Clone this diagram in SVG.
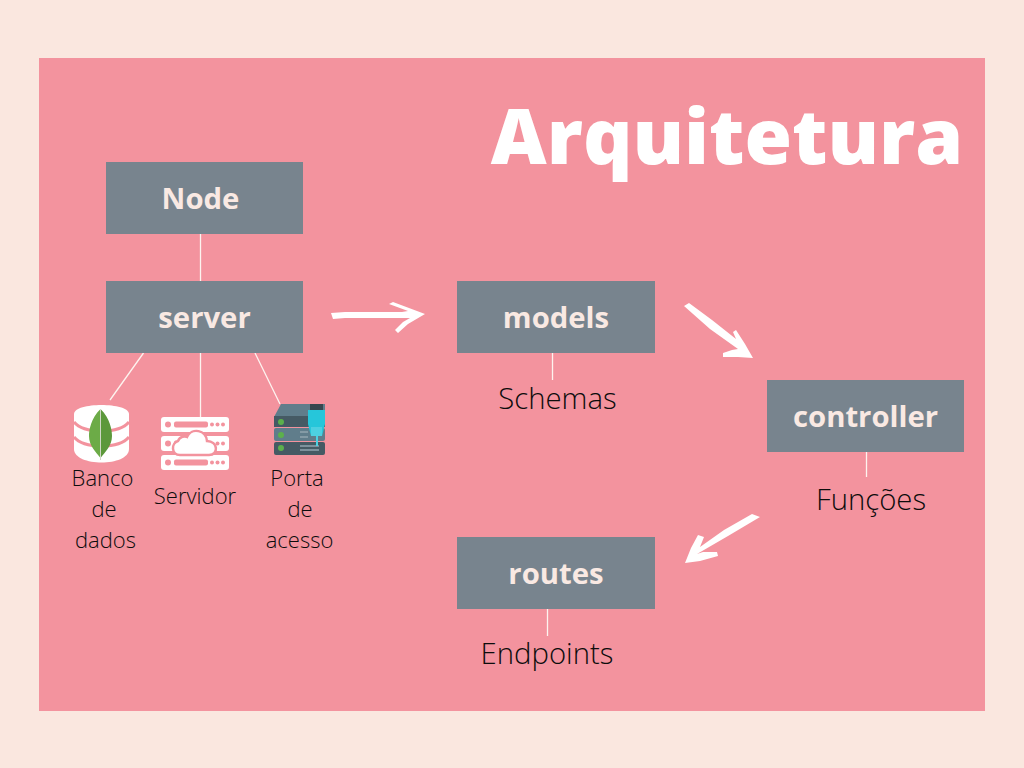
<svg xmlns="http://www.w3.org/2000/svg" width="1024" height="768" viewBox="0 0 1024 768">
<style>
.box{fill:#78848e}
.bl{font-family:"Open Sans","Liberation Sans",sans-serif;font-weight:700;font-size:29.300px;fill:#f9e9e3;text-anchor:middle}
.lab{font-family:"Open Sans","Liberation Sans",sans-serif;font-weight:300;font-size:29.300px;fill:#0c0c0c;text-anchor:middle}
.sm{font-family:"Open Sans","Liberation Sans",sans-serif;font-weight:300;font-size:22px;fill:#0c0c0c;text-anchor:middle}
.ln{stroke:#fdf3ef;stroke-width:1.300;fill:none}
.arrow{fill:#fff}
.w{fill:#fff}
.p{fill:#f3939e}
</style>
<rect width="1024" height="768" fill="#fae7df"/>
<rect x="39" y="58" width="946" height="653" fill="#f3939e"/>
<text id="title" x="727" y="164" font-family="'Open Sans','Liberation Sans',sans-serif" font-weight="800" font-size="77" fill="#fff" text-anchor="middle">Arquitetura</text>
<g id="connectors">
<path class="ln" d="M200.500 234V281M200.500 353V417M143.500 353L110 400M255 353L280 404M552.500 353V380M866.500 452V477M547.500 609V636"/>
<path class="arrow" d="M331 313L345 312L402 312L408 311L389 304L393 302L425 314L408 324L398 333L395 330L403 322L410 318L345 318L333 319Z"/>
<path class="arrow" d="M684 306L689 303L712 320L736 339L733 332L736 330L745 344L753 358L738 357L723 357L723 353L732 350L738 349L710 329Z"/>
<path class="arrow" d="M760 517L752 514L724 530L700 547L704 537L698 535L691 548L685 563L700 561L718 556L717 552L703 552L697 554L728 536Z"/>
</g>
<g id="node"><rect class="box" x="106" y="162" width="197" height="72"/><text class="bl" x="200.500" y="209">Node</text></g>
<g id="server"><rect class="box" x="106" y="281" width="197" height="72"/><text class="bl" x="204.500" y="328">server</text></g>
<g id="models"><rect class="box" x="457" y="281" width="198" height="72"/><text class="bl" x="556" y="328">models</text></g>
<g id="controller"><rect class="box" x="767" y="380" width="197" height="72"/><text class="bl" x="865.500" y="427">controller</text></g>
<g id="routes"><rect class="box" x="457" y="537" width="198" height="72"/><text class="bl" x="556" y="583.500">routes</text></g>
<g id="schemas"><text class="lab" x="557.500" y="409">Schemas</text></g>
<g id="funcoes"><text class="lab" x="871" y="510">Funções</text></g>
<g id="endpoints"><text class="lab" x="547" y="664">Endpoints</text></g>
<g id="banco">
<path class="w" d="M74 414C74 402 129 402 129 414V449C129 467 74 467 74 449Z"/>
<path d="M74 422C84 434 119 434 129 422M74 437C84 449 119 449 129 437" fill="none" stroke="#f3939e" stroke-width="3"/>
<path d="M100.500 409C91 418 89 430 89 436C89 446 96 452 100.500 458Z" fill="#6cab47"/>
<path d="M100.500 409C110 418 112 430 112 436C112 446 105 452 100.500 458Z" fill="#5c983b"/>
<path d="M100.500 409V460" stroke="#cfd6c5" stroke-width="1"/>
<text class="sm" x="102.500" y="486">Banco</text><text class="sm" x="104" y="517">de</text><text class="sm" x="105.500" y="548">dados</text>
</g>
<g id="servidor">
<rect class="w" x="161" y="417" width="68" height="15" rx="3"/><rect class="w" x="161" y="436" width="68" height="15" rx="3"/><rect class="w" x="161" y="455" width="68" height="15" rx="3"/>
<g class="p"><circle cx="168" cy="424.500" r="3"/><circle cx="168" cy="443.500" r="3"/><circle cx="168" cy="462.500" r="3"/><rect x="174" y="421.500" width="34" height="6" rx="2"/><rect x="174" y="440.500" width="34" height="6" rx="2"/><rect x="174" y="459.500" width="34" height="6" rx="2"/><circle cx="212" cy="424.500" r="2"/><circle cx="217.500" cy="424.500" r="2"/><circle cx="223" cy="424.500" r="2"/><circle cx="217.500" cy="443.500" r="2"/><circle cx="223" cy="443.500" r="2"/><circle cx="212" cy="462.500" r="2"/><circle cx="217.500" cy="462.500" r="2"/><circle cx="223" cy="462.500" r="2"/></g>
<path class="w" stroke="#f3939e" stroke-width="2.500" d="M180 455C171 455 171 443 178 441C180 436 185 436 187 437C192 427 206 430 207 441C218 441 219 455 209 455Z"/>
<text class="sm" x="195" y="504">Servidor</text>
</g>
<g id="porta">
<path d="M274 417L281 404H325V417Z" fill="#607d8b"/>
<rect x="274" y="416" width="51" height="11" fill="#455a64"/>
<rect x="274" y="428" width="51" height="13" rx="2" fill="#607d8b"/>
<rect x="274" y="442" width="51" height="13" rx="2" fill="#455a64"/>
<circle cx="281" cy="422" r="3" fill="#5cb04c"/><circle cx="281" cy="435" r="3" fill="#5cb04c"/><circle cx="281" cy="448" r="3" fill="#5cb04c"/>
<path d="M300 432h8M300 437h8M300 446h19M300 450h19" stroke="#90a4ae" stroke-width="1.500"/>
<rect x="310" y="404" width="13" height="6" fill="#37474f"/>
<path d="M308 410H325V424L322 436H311L308 424Z" fill="#26c6da"/>
<rect x="311" y="427" width="11" height="9" fill="#4dd0e1"/>
<path d="M317 436V446" stroke="#4dd0e1" stroke-width="2"/>
<text class="sm" x="297" y="486">Porta</text><text class="sm" x="300" y="517">de</text><text class="sm" x="299.500" y="548">acesso</text>
</g>
</svg>
